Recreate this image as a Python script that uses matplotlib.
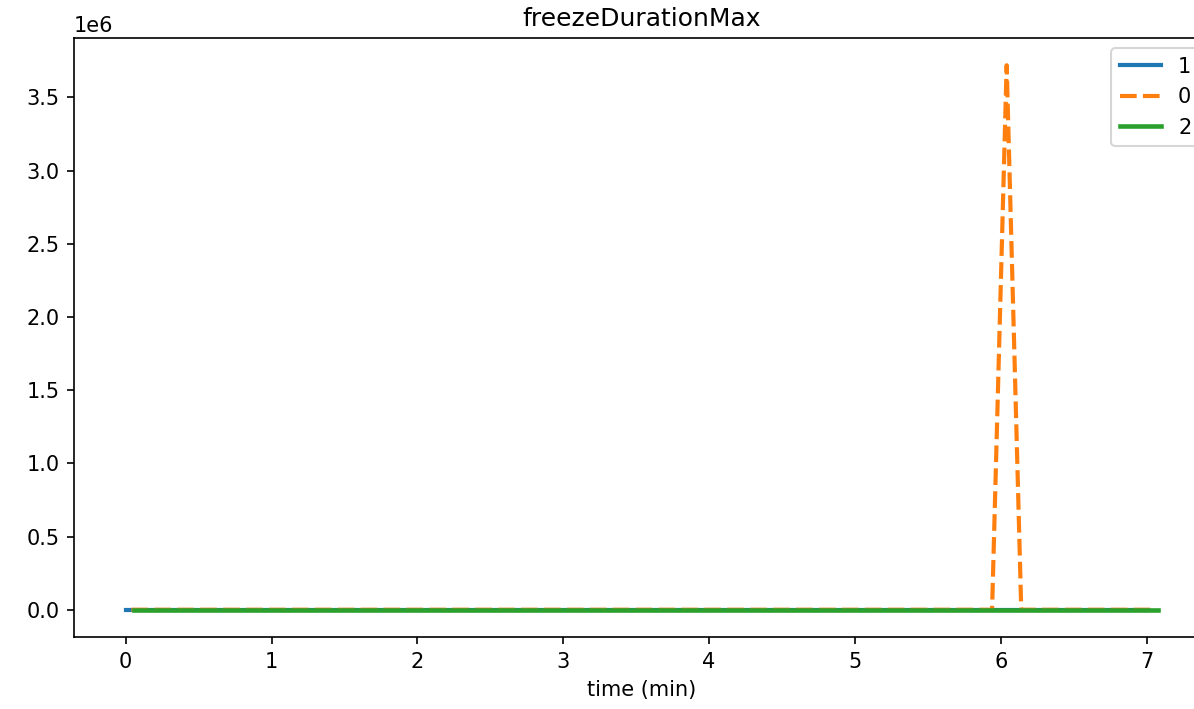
import matplotlib
matplotlib.use("Agg")
import matplotlib.pyplot as plt

# series data (time in minutes, value)
t1 = [0.0, 7.0]
v1 = [0.0, 0.0]
t0 = [0.04, 5.94, 6.04, 6.14, 7.06]
v0 = [0.0, 0.0, 3.72e6, 0.0, 0.0]
t2 = [0.055, 7.08]
v2 = [0.0, 0.0]
labels = ["1", "0", "2"]

fig = plt.figure(figsize=(1194/150, 709/150), dpi=150)
ax = fig.add_axes([74/1194, (709-637)/709, (1210-74)/1194, (637-38)/709])
ax.plot(t1, v1, color="#1f77b4", lw=2, label=labels[0])
ax.plot(t0, v0, color="#ff7f0e", lw=2, ls=(0, (4, 1.5)), label=labels[1])
ax.plot(t2, v2, color="#2ca02c", lw=2.2, label=labels[2])
ax.set_title("freezeDurationMax")
ax.set_xlabel("time (min)")
ax.legend(loc="upper right")
fig.savefig("out.png", dpi=150)
